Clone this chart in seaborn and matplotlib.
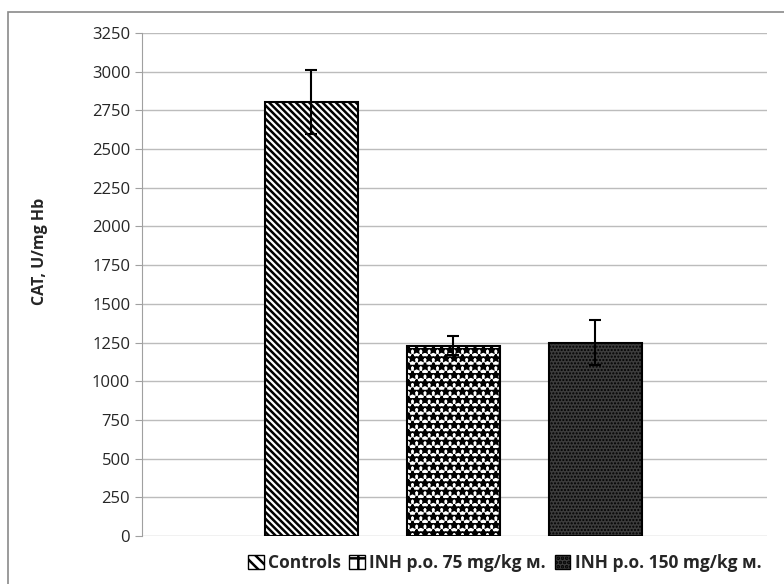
import matplotlib
matplotlib.use('Agg')
import matplotlib.pyplot as plt
import matplotlib.patches as mpatches
import seaborn as sns
import pandas as pd

# data
groups = ['Controls', 'INH p.o. 75 mg/kg м.', 'INH p.o. 150 mg/kg м.']
cat_mean = [2805, 1230, 1250]
cat_err = [205, 62, 145]
hatches = ['\\\\\\\\\\', '**', '.....']
faces = ['white', 'white', '#3c3c3c']
hatch_lw = [1.8, 1.6, 1.0]

sns.set_style('white')
plt.rcParams['font.family'] = ['Open Sans', 'DejaVu Sans']
plt.rcParams['hatch.linewidth'] = 1.8

df = pd.DataFrame({'group': groups, 'cat': cat_mean})

fig = plt.figure(figsize=(7.84, 5.84), dpi=100)
ax = fig.add_axes([142 / 784, 1 - 536 / 584, 625 / 784, 503 / 584])

sns.barplot(data=df, x='group', y='cat', hue='group', width=0.655,
            errorbar=None, legend=False, ax=ax, zorder=3)

for bar, h, fc, hl in zip(ax.patches, hatches, faces, hatch_lw):
    bar.set_facecolor(fc)
    bar.set_hatch(h)
    bar.set_edgecolor('black')
    bar.set_linewidth(1.5)
    if hasattr(bar, 'set_hatch_linewidth'):
        bar.set_hatch_linewidth(hl)

ax.errorbar(range(len(groups)), cat_mean, yerr=cat_err, fmt='none',
            ecolor='black', elinewidth=1.5, capsize=4, capthick=1.5, zorder=4)

ax.set_xlim(-1.19, 3.21)
ax.set_ylim(0, 3250)
ax.set_yticks(range(0, 3251, 250))
ax.tick_params(axis='y', labelsize=12, length=5, color='#a0a0a0', left=True)
ax.set_xticks([])
ax.set_xlabel('')
ax.set_ylabel('CAT, U/mg Hb', fontsize=11.5, fontweight='bold')
ax.yaxis.set_label_coords(-0.15, 0.565)
ax.yaxis.grid(True, color='#bcbcbc', linewidth=1)
ax.set_axisbelow(True)
for s in ['top', 'right', 'bottom']:
    ax.spines[s].set_visible(False)
ax.spines['left'].set_color('#a0a0a0')

handles = []
for h, fc in zip(['\\\\\\', '+', '....'], faces):
    p = mpatches.Patch(facecolor=fc, edgecolor='black', hatch=h, linewidth=1)
    if hasattr(p, 'set_hatch_linewidth'):
        p.set_hatch_linewidth(1.0)
    handles.append(p)
fig.legend(handles, groups, loc='center right', bbox_to_anchor=(770 / 784, 1 - 563 / 584),
           ncol=3, frameon=False, handlelength=0.9, handleheight=0.9,
           handletextpad=0.25, columnspacing=0.5, borderpad=0,
           prop={'weight': 'bold', 'size': 12.5})

fig.add_artist(mpatches.Rectangle((8 / 784, -0.02), 1.0, 1 - 12 / 584 + 0.02,
                                  transform=fig.transFigure, fill=False,
                                  edgecolor='#8a8a8a', linewidth=1.2))

fig.savefig('out.png', dpi=100)
